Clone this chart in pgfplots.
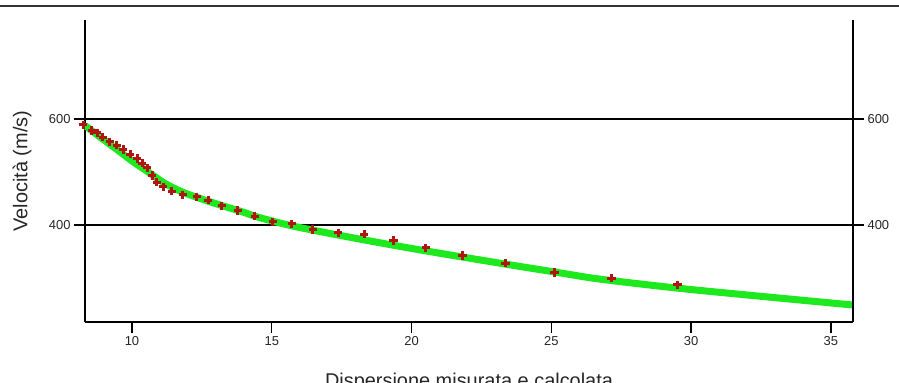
\documentclass[border=0pt]{standalone}
\usepackage{pgfplots}
\pgfplotsset{compat=1.18}
\usepackage{fontspec}
\setmainfont{Liberation Sans}
\definecolor{redm}{RGB}{175,22,18}
\definecolor{greenl}{RGB}{30,232,30}
\begin{document}
\begin{tikzpicture}[x=1bp,y=1bp]
\path[use as bounding box] (0,0) rectangle (899,382);
\draw[line width=1.8bp, black!80] (0,376) -- (899,376);
\pgfplotsset{
  myaxis/.style={
    at={(85bp,60bp)}, anchor=south west,
    scale only axis, width=768bp, height=302bp,
    xmin=8.32, xmax=35.79, ymin=217, ymax=787,
    axis line style={-, line width=1.3bp, black},
    tick style={line width=1.3bp, black},
    tick align=outside, major tick length=11bp,
    /pgf/number format/assume math mode=true,
    ticklabel style={font=\fontsize{13}{15}\selectfont, text=black!85},
  }
}
\begin{axis}[myaxis,
  axis x line*=bottom, axis y line*=box,
  xtick={10,15,20,25,30,35},
  ytick={400,600},
  ytick pos=both, yticklabel pos=left,
  ymajorgrids, grid style={line width=1.3bp, black},
  clip=false,
  xlabel={Dispersione misurata e calcolata},
  ylabel={Velocità (m/s)},
  every axis x label/.style={at={(axis description cs:0.5,-0.217)}, anchor=base, font=\fontsize{20}{24}\selectfont, text=black!85},
  every axis y label/.style={at={(axis description cs:-0.082,0.5)}, anchor=center, rotate=90, font=\fontsize{20}{24}\selectfont, text=black!85},
]
\addplot[only marks, mark=+, mark size=4.3bp, line width=3bp, color=redm] coordinates {
(8.25,589) (8.57,579) (8.75,574) (8.96,566) (9.21,557) (9.46,551) (9.68,543)
(9.93,534) (10.18,526) (10.36,517) (10.54,508) (10.72,494) (10.89,481)
(11.11,472) (11.43,464) (11.82,457) (12.32,453) (12.72,447) (13.22,436)
(13.79,428) (14.40,417) (15.04,406) (15.72,402) (16.47,392) (17.37,385)
(18.30,383) (19.35,371) (20.51,357) (21.83,343) (23.37,328) (25.12,311)
(27.16,300) (29.52,287)
};
\addplot[smooth, no marks, line width=7bp, color=greenl] coordinates {
(8.32,588) (8.86,566) (9.5,541) (10,521) (10.64,498) (11.2,478) (11.82,462)
(12.5,449) (13.14,438) (14,424) (14.5,415) (15.76,398) (17.79,377) (20.2,354)
(23.16,328) (25.05,312) (26.73,298) (29.5,281) (32,268) (35.79,249)
};
\end{axis}
\begin{axis}[myaxis,
  axis x line=none, axis y line*=right,
  ytick={400,600}, yticklabel pos=right,
]
\end{axis}
\end{tikzpicture}
\end{document}
